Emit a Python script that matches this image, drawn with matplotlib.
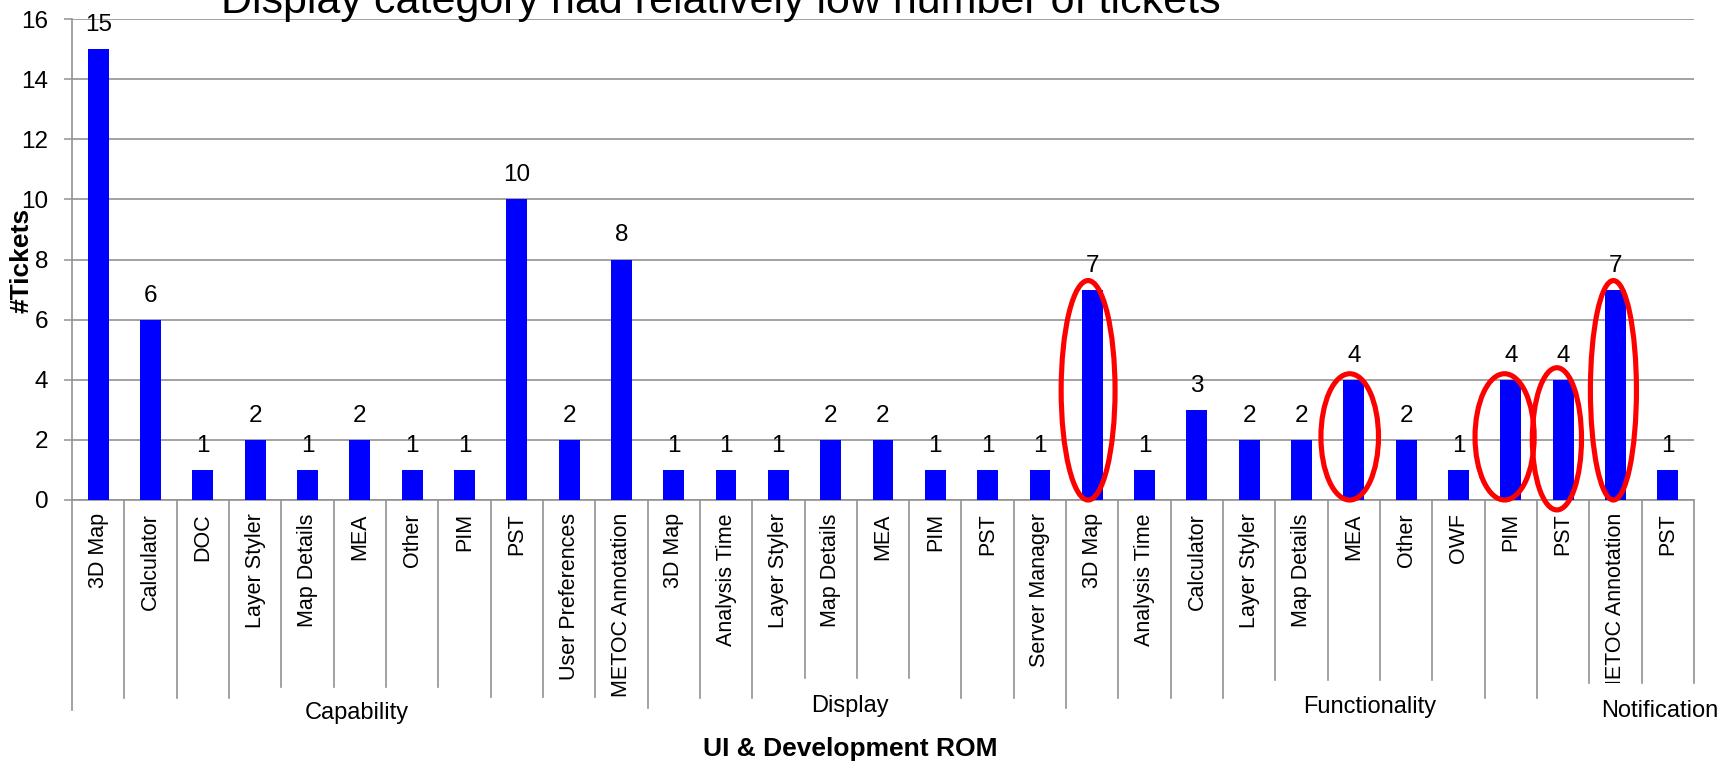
import matplotlib
matplotlib.use("Agg")
import matplotlib.pyplot as plt
import numpy as np
from matplotlib.patches import Ellipse
from matplotlib.transforms import Bbox, TransformedBbox, blended_transform_factory

plt.rcParams['font.family'] = ['Liberation Sans', 'DejaVu Sans']

# ticket counts per component, grouped by category
groups = ["Capability", "Display", "Functionality", "Notification"]
capability_items = ["3D Map", "Calculator", "DOC", "Layer Styler", "Map Details", "MEA",
                    "Other", "PIM", "PST", "User Preferences", "METOC Annotation"]
capability_tickets = [15, 6, 1, 2, 1, 2, 1, 1, 10, 2, 8]
display_items = ["3D Map", "Analysis Time", "Layer Styler", "Map Details", "MEA",
                 "PIM", "PST", "Server Manager"]
display_tickets = [1, 1, 1, 2, 2, 1, 1, 1]
functionality_items = ["3D Map", "Analysis Time", "Calculator", "Layer Styler", "Map Details",
                       "MEA", "Other", "OWF", "PIM", "PST", "METOC Annotation"]
functionality_tickets = [7, 1, 3, 2, 2, 4, 2, 1, 4, 4, 7]
notification_items = ["PST"]
notification_tickets = [1]

title = "Display category had relatively low number of tickets"
xlabel = "UI & Development ROM"
ylabel = "#Tickets"

items = capability_items + display_items + functionality_items + notification_items
tickets = capability_tickets + display_tickets + functionality_tickets + notification_tickets
group_sizes = [len(capability_items), len(display_items), len(functionality_items), len(notification_items)]

# red rings drawn by hand around some bars: (bar index, x nudge, width, bottom, top)
rings = [(19, -0.08, 1.03, 0.0, 7.3),
         (24, -0.08, 1.10, 0.0, 4.2),
         (27, -0.12, 1.13, 0.0, 4.2),
         (28, -0.12, 0.94, -0.33, 4.4),
         (29, -0.04, 0.88, 0.0, 7.3)]

GRAY = "#929292"
W, H = 1730, 762
fig = plt.figure(figsize=(W / 100, H / 100), dpi=100)
ax = fig.add_axes([72 / W, 1 - 500 / H, (1694 - 72) / W, (500 - 19) / H])

x = np.arange(len(items))
ax.bar(x, tickets, width=0.4, color="#0000ff", zorder=3)
for xi, v in zip(x, tickets):
    ax.annotate(str(v), (xi, v), xytext=(0, 13), textcoords="offset points",
                ha="center", va="baseline", fontsize=17.5)

for idx, dx, w, lo, hi in rings:
    ax.add_patch(Ellipse((idx + dx, (lo + hi) / 2), w, hi - lo, fill=False,
                         edgecolor="#ff0000", lw=3.7, zorder=4, clip_on=False))

ax.set_yticks(range(0, 17, 2))
ax.tick_params(axis="y", length=6, width=1.1, color=GRAY, labelsize=17.5, pad=11)
ax.set_xticks(x, items, rotation=90, fontsize=15.5)
ax.tick_params(axis="x", length=0, pad=9.5)
ax.yaxis.grid(True, color=GRAY, lw=1.2)
ax.set_axisbelow(True)
for s in ["top", "right"]:
    ax.spines[s].set_visible(False)
for s in ["left", "bottom"]:
    ax.spines[s].set_color(GRAY)
    ax.spines[s].set_linewidth(1.2)

# the long label under the last functionality bar is cut off by the group row
cut = TransformedBbox(Bbox.from_extents(0, 1 - 683 / H, 1, 1), fig.transFigure)
lab = ax.get_xticklabels()[29]
lab.set_clip_on(True)
lab.set_clip_box(cut)

# separator lines between category labels, hanging below the axis
sep_bottom = [710, 698, 698, 698, 687, 687, 687, 687, 697, 697, 697, 708,
              698, 698, 678, 678, 678, 698, 698, 708, 698, 698, 698, 680,
              680, 680, 680, 698, 698, 683, 683, 683]
trans = blended_transform_factory(ax.transData, fig.transFigure)
for b, yb in zip(np.arange(len(items) + 1) - 0.5, sep_bottom):
    ax.plot([b, b], [1 - 500 / H, 1 - yb / H], transform=trans, color=GRAY,
            lw=1.2, clip_on=False)

# group names under the category labels
group_baseline = [719, 712, 713, 717]
group_nudge = [-0.05, -0.13, 0.3, -0.15]
start = 0
for name, n, yb, dx in zip(groups, group_sizes, group_baseline, group_nudge):
    centre = start - 0.5 + n / 2 + dx
    ax.text(centre, 1 - yb / H, name, transform=trans, ha="center", va="baseline",
            fontsize=17)
    start += n

ax.set_xlim(-0.5, len(items) - 0.5)
ax.set_ylim(0, 16)

fig.text(221 / W, 1 - 13 / H, title, fontsize=31, ha="left", va="baseline")
fig.text(850 / W, 1 - 756 / H, xlabel, fontsize=19, fontweight="bold",
         ha="center", va="baseline")
fig.text(22 / W, 1 - 260 / H, ylabel, fontsize=19, fontweight="bold",
         rotation=90, ha="center", va="center")

fig.savefig("out.png", dpi=100)
